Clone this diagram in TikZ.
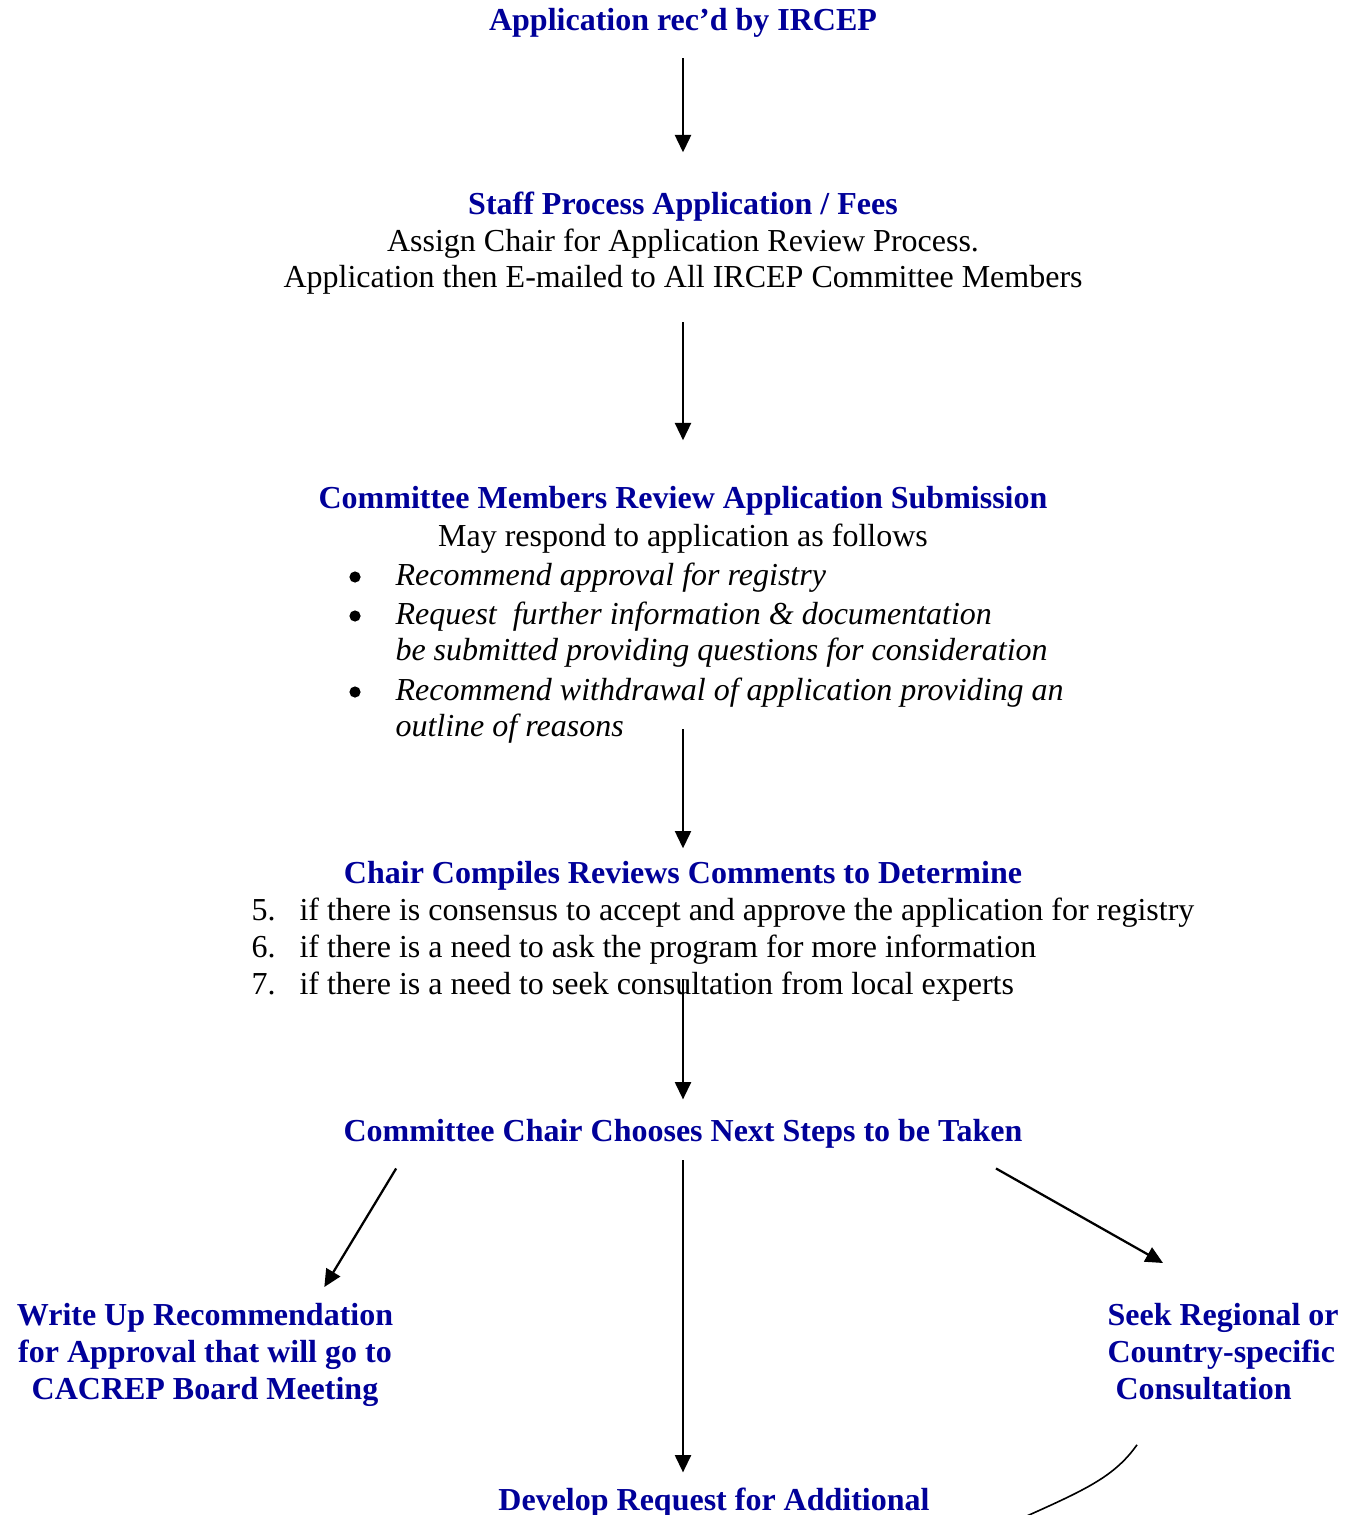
\documentclass[tikz,border=0pt]{standalone}
\usepackage{fontspec}
\setmainfont{Liberation Serif}
\usetikzlibrary{arrows.meta}

\definecolor{headblue}{RGB}{0,0,153}

\tikzset{
  txt/.style={inner sep=0pt, font=\fontsize{12}{13.9}\selectfont, text height=8.3pt, text depth=2.6pt},
  head/.style={txt, font=\fontsize{12}{13.9}\selectfont\bfseries, text=headblue},
  opt/.style={txt, anchor=base west, font=\fontsize{12}{13.9}\selectfont\itshape},
  headbox/.style={inner sep=0pt, font=\fontsize{12}{13.9}\selectfont\bfseries, text=headblue},
  dot/.style={circle, fill=black, inner sep=0pt, minimum size=4.2pt},
  flow/.style={line width=0.85pt, -{Triangle[length=6.5pt,width=6pt]}}
}

\begin{document}
\begin{tikzpicture}[x=0.375pt, y=-0.375pt]

% Page frame
\useasboundingbox (0,0) rectangle (1351,1515);
\clip (0,0) rectangle (1351,1515);

% Application received
\node[head, anchor=base] (rec) at (683,31) {Application rec’d by IRCEP};

% Staff processing
\node[head, anchor=base] (staff) at (683,215) {Staff Process Application / Fees};
\node[txt, anchor=base] (staffa) at (683,251) {Assign Chair for Application Review Process.};
\node[txt, anchor=base] (staffb) at (683,288) {Application then E-mailed to All IRCEP Committee Members};

% Committee review with the possible responses
\node[head, anchor=base] (review) at (683,508) {Committee Members Review Application Submission};
\node[txt, anchor=base] (respond) at (683,546) {May respond to application as follows};
\foreach \n/\y in {1/577, 2/616, 3/692}
  \node[dot] (dot\n) at (355,\y) {};
\node[opt] (opt1) at (395,585) {Recommend approval for registry};
\node[opt] (opt2) at (395,624) {Request\ \ further information \& documentation};
\node[opt] (opt2b) at (395,660) {be submitted providing questions for consideration};
\node[opt] (opt3) at (395,700) {Recommend withdrawal of application providing an};
\node[opt] (opt3b) at (395,736) {outline of reasons};

% Chair compiles the reviews
\node[head, anchor=base] (compile) at (683,883) {Chair Compiles Reviews Comments to Determine};
\node[txt, anchor=base west] (num5) at (251,920) {5.};
\node[txt, anchor=base west] (item5) at (299,920) {if there is consensus to accept and approve the application for registry};
\node[txt, anchor=base west] (num6) at (251,957) {6.};
\node[txt, anchor=base west] (item6) at (299,957) {if there is a need to ask the program for more information};
\node[txt, anchor=base west] (num7) at (251,994) {7.};
\node[txt, anchor=base west] (item7) at (299,994) {if there is a need to seek consultation from local experts};

% Next steps
\node[head, anchor=base] (chooses) at (683,1141) {Committee Chair Chooses Next Steps to be Taken};
\node[headbox, align=center, anchor=north] (writeup) at (205,1303)
  {Write Up Recommendation\\for Approval that will go to\\CACREP Board Meeting};
\node[headbox, align=left, anchor=north west] (consult) at (1107,1303)
  {Seek Regional or\\Country-specific\\\hspace*{3pt}Consultation};
\node[head, anchor=base] (develop) at (714,1510) {Develop Request for Additional};
\coordinate (tail) at (1000,1528);

% Arrows
\draw[flow, shorten <=7.5pt, shorten >=15pt] (rec.south) -- (staff.north);
\draw[flow, shorten <=10.1pt, shorten >=16.9pt] (staffb.south) -- (review.north);
\draw[flow, shorten <=6pt, shorten >=4.5pt] (respond.south |- opt3b.north) -- (compile.north);
\draw[flow, shorten <=3pt, shorten >=7.1pt] (chooses.north |- item7.north) -- (chooses.north);
\draw[flow] ([xshift=19.9pt, yshift=-7.5pt]chooses.south west) -- ([xshift=-26pt, yshift=6pt]writeup.north east);
\draw[flow, shorten <=4.5pt, shorten >=5.6pt] (chooses.south) -- (chooses.south |- develop.north);
\draw[flow] ([xshift=-10.1pt, yshift=-7.5pt]chooses.south east) -- ([xshift=21pt, yshift=15pt]consult.north west);
\draw[line width=0.6pt] ([xshift=11.25pt, yshift=-16.5pt]consult.south west)
  .. controls (1112,1480) and (1080,1492) .. (tail);

\end{tikzpicture}
\end{document}
